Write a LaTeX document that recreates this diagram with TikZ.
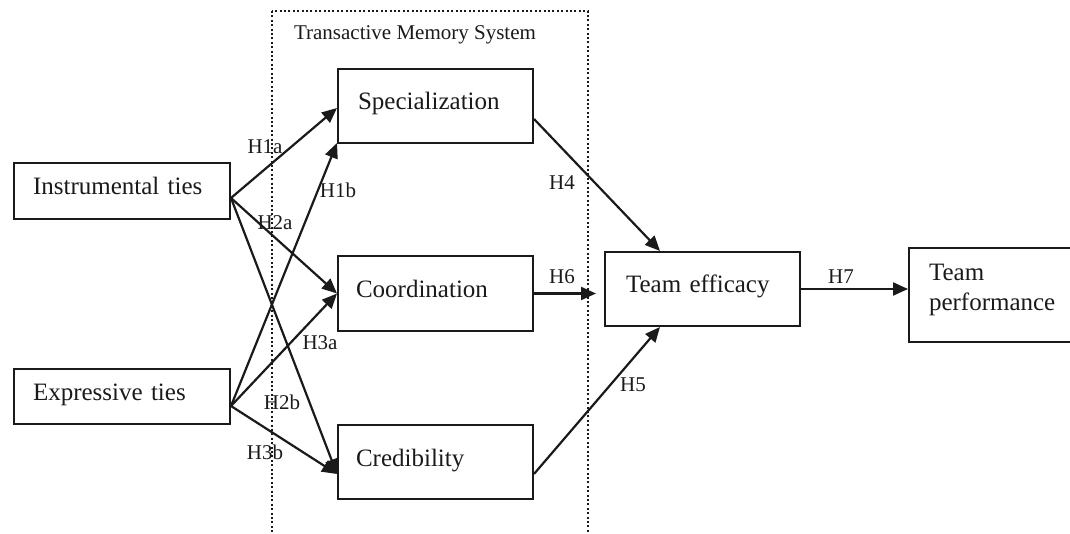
\documentclass[tikz,border=0pt]{standalone}
\usepackage{fontspec}
\setmainfont{Liberation Serif}
\usetikzlibrary{arrows.meta,calc}
\definecolor{ink}{HTML}{1A1A1A}

\begin{document}
\begin{tikzpicture}[x=1pt,y=-1pt,
  every node/.style={text=ink},
  box/.style={draw=ink, line width=2pt, rectangle, anchor=north west,
    inner ysep=0pt, align=left, font=\fontsize{25}{30}\selectfont},
  oneline/.style={box, text height=16pt, text depth=8pt},
  hyp/.style={inner sep=0pt, font=\fontsize{21}{25}\selectfont},
  link/.style={draw=ink, line width=2.2pt, -{Triangle[length=15pt,width=13pt]}},
  frame/.style={draw=ink, line width=2.2pt, dash pattern=on 2pt off 2.4pt}
]
\useasboundingbox (0,0) rectangle (1070,534);

% dotted frame around the transactive memory system constructs
\draw[frame] (272,11) rectangle (588,560);
\node[hyp] (tmslabel) at (415,35) {Transactive Memory System};

% constructs
\node[oneline, minimum width=216pt, minimum height=56pt, inner xsep=19pt, text width=178pt] (instr) at (13,162) {Instrumental ties};
\node[oneline, minimum width=216pt, minimum height=55pt, inner xsep=19pt, text width=178pt] (expr) at (13,368) {Expressive ties};
\node[oneline, minimum width=195pt, minimum height=74pt, inner xsep=20pt, text width=155pt] (spec) at (337,68) {Specialization};
\node[oneline, minimum width=195pt, minimum height=75pt, inner xsep=18pt, text width=159pt] (coord) at (337,255) {Coordination};
\node[oneline, minimum width=195pt, minimum height=74pt, inner xsep=18pt, text width=159pt] (cred) at (337,424) {Credibility};
\node[oneline, minimum width=195pt, minimum height=74pt, inner xsep=21pt, text width=153pt] (eff) at (604,251) {Team efficacy};
% two-line label, with an empty last line that lifts the text slightly
\node[box, minimum width=172pt, minimum height=94pt, inner xsep=20pt, text width=132pt]
  (perf) at (908,247) {Team\\performance\\[-14pt]\mbox{}};

% anchor points on the source boxes
\coordinate (iout) at ([yshift=-7pt]instr.east);
\coordinate (eout) at ([yshift=-9.5pt]expr.east);
\coordinate (credin) at ([yshift=-12pt]cred.west);

% hypothesised paths
\draw[link] (iout) -- ([yshift=-2pt]spec.west);
\draw[link] (iout) -- (coord.west);
\draw[link] (iout) -- (credin);
\draw[link] (eout) -- ([yshift=1pt]spec.south west);
\draw[link] (eout) -- (coord.west);
\draw[link] (eout) -- (credin);
\draw[link] ([yshift=-13pt]spec.east) -- ([xshift=56pt]eff.north west);
\draw[link] (coord.east) -- ($(coord.east -| eff.west)+(-8,0)$);
\draw[link] ([yshift=-12pt]cred.east) -- ([xshift=56pt]eff.south west);
\draw[link] (eff.east) -- (eff.east -| perf.west);

% hypothesis labels
\node[hyp] (h1a) at (265,147) {H1a};
\node[hyp] (h1b) at (338,190) {H1b};
\node[hyp] (h2a) at (275,223) {H2a};
\node[hyp] (h3a) at (320,343) {H3a};
\node[hyp] (h2b) at (282,402) {H2b};
\node[hyp] (h3b) at (265,452) {H3b};
\node[hyp] (h4) at (562,183) {H4};
\node[hyp] (h6) at (562,277) {H6};
\node[hyp] (h5) at (633,385) {H5};
\node[hyp] (h7) at (841,277) {H7};
\end{tikzpicture}
\end{document}
